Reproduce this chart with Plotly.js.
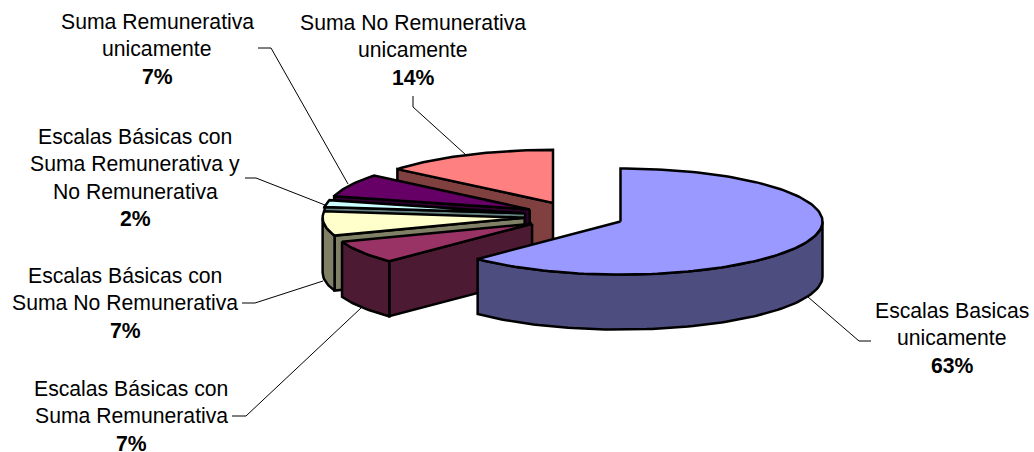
<!DOCTYPE html>
<html><head><meta charset="utf-8">
<script src="https://cdn.plot.ly/plotly-3.0.1.min.js"></script>
<style>html,body{margin:0;padding:0;background:#fff}</style></head>
<body><div id="chart" style="width:1034px;height:452px"></div>
<script>
// Data (clockwise from 12 o'clock)
const categories = [
  ["Escalas Basicas","unicamente"],
  ["Escalas Básicas con","Suma Remunerativa"],
  ["Escalas Básicas con","Suma No Remunerativa"],
  ["Escalas Básicas con","Suma Remunerativa y","No Remunerativa"],
  ["Suma Remunerativa","unicamente"],
  ["Suma No Remunerativa","unicamente"]
];
const values = [62.5, 7, 7.4, 2.1, 7, 14];
const topColors  = ["#9999FF","#993366","#FFFFCC","#CCFFFF","#660066","#FF8080"];
const wallColors = ["#4D4D80","#4D1A33","#808066","#668080","#330033","#804040"];
// Layout of labels: centre x, y of first line
const labelX = [952,131,125,135,157,413];
const labelY = [310,388,275,136,21,22];
const lineH = 27.6;
const leaders = [
  [[808,297],[859,341],[871,341]],
  [[361,308],[246,416],[232,416]],
  [[323,281],[255,303],[242,303]],
  [[325,205],[256,178],[245,178]],
  [[348,184],[271,48],[258,48]],
  [[466,155],[413,107],[413,96]]
];
// 3D projection
const cx=574.3, cy=216, rx=202, ry=53, depth=55, explodeX=50, explodeY=14.5;
const rad=d=>d*Math.PI/180;
const total=values.reduce((a,b)=>a+b,0);
let acc=0;
const slices=values.map((v,i)=>{const a0=acc; acc+=v/total*360; const a1=acc; const m=(a0+a1)/2;
  return {i,a0,a1,ax:cx+explodeX*Math.sin(rad(m)),ay:cy-explodeY*Math.cos(rad(m))};});
const rim=(s,a,dz=0)=>[s.ax+rx*Math.sin(rad(a)), s.ay-ry*Math.cos(rad(a))+dz];
function arc(s,a,b,dz=0){const n=Math.max(2,Math.ceil(Math.abs(b-a)/1.5));const p=[];
  for(let k=0;k<=n;k++)p.push(rim(s,a+(b-a)*k/n,dz));return p;}
const traces=[];
function poly(pts,color){const c=pts.concat([pts[0]]);
  traces.push({type:'scatter',mode:'lines',x:c.map(p=>p[0]),y:c.map(p=>p[1]),fill:'toself',fillcolor:color,
    line:{color:'#000',width:2.5,shape:'linear'},hoverinfo:'skip',showlegend:false,cliponaxis:false});}
// painter's order: back slices first, exploded largest slice last
[5,4,3,2,1,0].forEach(i=>{const s=slices[i];
  if(Math.sin(rad(s.a0))<-1e-6){const e=rim(s,s.a0);
    poly([[s.ax,s.ay],e,[e[0],e[1]+depth],[s.ax,s.ay+depth]],wallColors[i]);}
  const f0=Math.max(s.a0,90), f1=Math.min(s.a1,270);
  if(f1>f0) poly(arc(s,f0,f1).concat(arc(s,f1,f0,depth)),wallColors[i]);
  poly([[s.ax,s.ay]].concat(arc(s,s.a0,s.a1)),topColors[i]);
});
const font={family:'"Liberation Sans",Arial,sans-serif',size:21.2,color:'#000'};
const annotations=[];
categories.forEach((lines,i)=>{
  lines.concat(['<b>'+Math.round(values[i])+'%</b>']).forEach((t,k)=>annotations.push({
    x:labelX[i],y:labelY[i]+k*lineH,xref:'x',yref:'y',text:t,showarrow:false,font,xanchor:'center',yanchor:'middle',borderpad:0}));
});
const shapes=leaders.map(l=>({type:'path',xref:'x',yref:'y',layer:'below',
  path:'M'+l.map(p=>p.join(',')).join('L'),line:{color:'#000',width:1}}));
Plotly.newPlot('chart',traces,{
  width:1034,height:452,margin:{l:0,r:0,t:0,b:0},paper_bgcolor:'#fff',plot_bgcolor:'#fff',showlegend:false,
  xaxis:{range:[0,1034],visible:false,fixedrange:true},
  yaxis:{range:[452,0],visible:false,fixedrange:true},
  annotations,shapes
},{displayModeBar:false,staticPlot:true});
</script></body></html>
